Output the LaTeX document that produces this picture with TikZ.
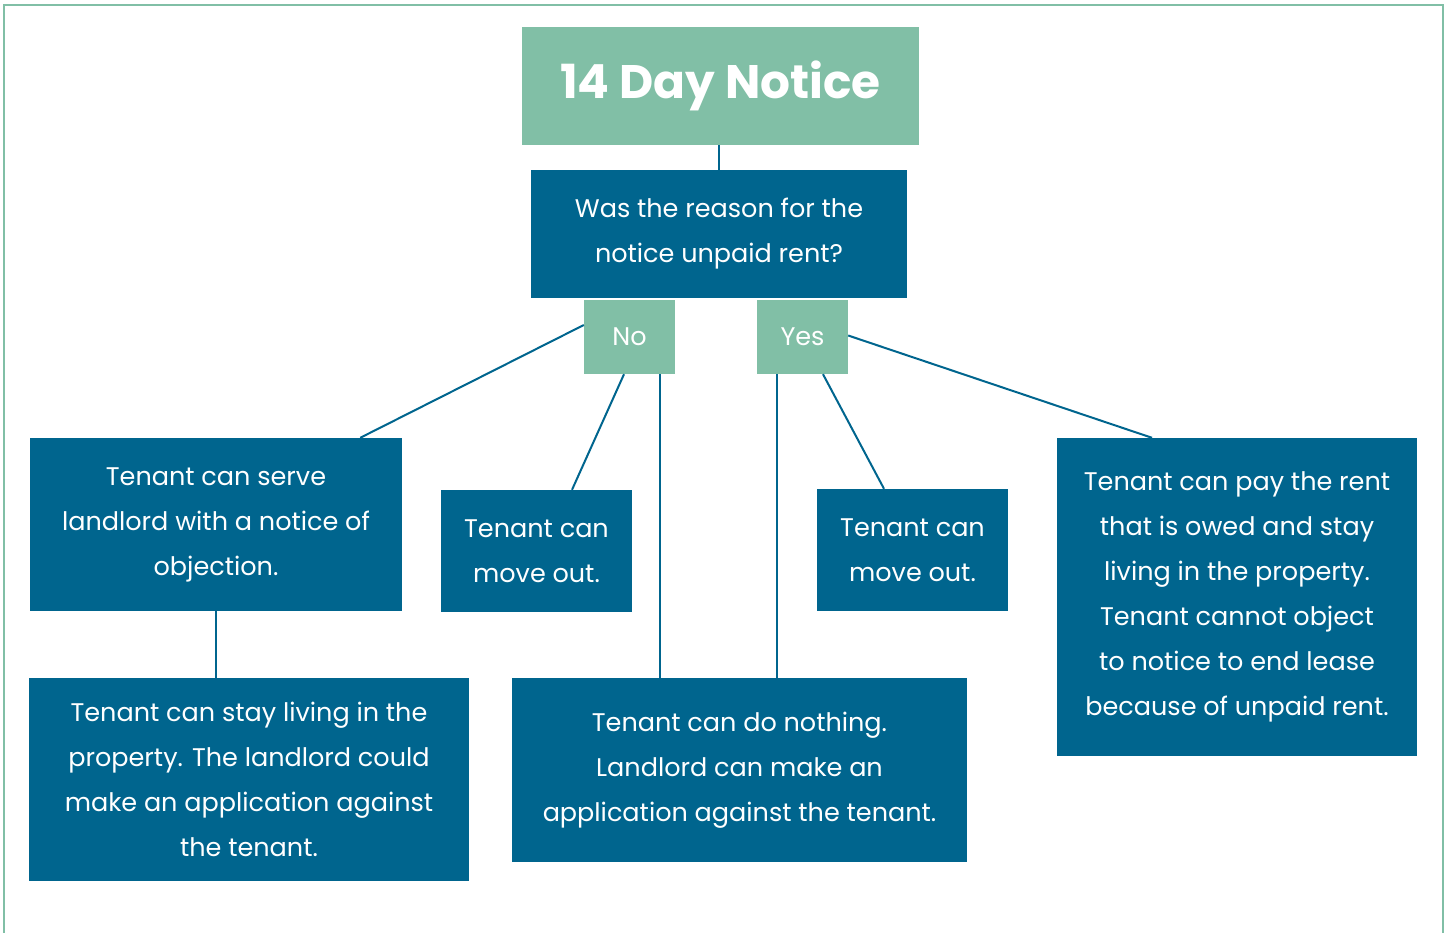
\documentclass[tikz,border=0pt]{standalone}
\usepackage{fontspec}
\setmainfont{Poppins}
\definecolor{notegreen}{RGB}{129,191,166}
\definecolor{noteblue}{RGB}{0,101,142}

\begin{document}
\begin{tikzpicture}[x=1pt,y=-1pt,
    box/.style={fill=noteblue,text=white,align=center,inner sep=0pt,font=\fontsize{25.5}{45}\selectfont},
    tag/.style={fill=notegreen,text=white,inner sep=0pt,font=\fontsize{25.5}{30}\selectfont},
    link/.style={draw=noteblue,line width=2pt}]
  \useasboundingbox (0,0) rectangle (1447,932);
  \draw[notegreen,line width=2pt] (4,5) rectangle (1443,960);

  \node[tag,minimum width=397pt,minimum height=118pt,font=\fontsize{47}{56}\selectfont\bfseries] (title) at (720.5,86) {14 Day Notice};
  \node[box,minimum width=376pt,minimum height=128pt] (question) at (719,234) {Was the reason for the\\notice unpaid rent?};
  \node[tag,minimum width=91pt,minimum height=74pt] (no) at (629.5,337) {No};
  \node[tag,minimum width=91pt,minimum height=74pt] (yes) at (802.5,337) {Yes};

  \node[box,minimum width=372pt,minimum height=173pt] (serve) at (216,524.5) {Tenant can serve\\landlord with a notice of\\objection.};
  \node[box,minimum width=191pt,minimum height=122pt] (moveleft) at (536.5,551) {Tenant can\\move out.};
  \node[box,minimum width=191pt,minimum height=122pt] (moveright) at (912.5,550) {Tenant can\\move out.};
  \node[box,minimum width=360pt,minimum height=318pt] (payrent) at (1237,597) {Tenant can pay the rent\\that is owed and stay\\living in the property.\\Tenant cannot object\\to notice to end lease\\because of unpaid rent.};
  \node[box,minimum width=440pt,minimum height=203pt] (stay) at (249,779.5) {Tenant can stay living in the\\property. The landlord could\\make an application against\\the tenant.};
  \node[box,minimum width=455pt,minimum height=184pt] (nothing) at (739.5,770) {Tenant can do nothing.\\Landlord can make an\\application against the tenant.};

  \path[link] (title.south -| question.north) edge (question.north);
  \path[link] ([yshift=12pt]no.west) edge ([xshift=-42pt]serve.north east);
  \path[link] ([xshift=-5.5pt]no.south) edge ([xshift=35.5pt]moveleft.north);
  \path[link] ([xshift=30.5pt]no.south) edge ([xshift=30.5pt]no.south |- nothing.north);
  \path[link] ([xshift=-25.5pt]yes.south) edge ([xshift=-25.5pt]yes.south |- nothing.north);
  \path[link] ([xshift=20.5pt]yes.south) edge ([xshift=-28.5pt]moveright.north);
  \path[link] ([yshift=1.5pt]yes.east) edge ([xshift=-85pt]payrent.north);
  \path[link] (serve.south) edge (serve.south |- stay.north);
\end{tikzpicture}
\end{document}
